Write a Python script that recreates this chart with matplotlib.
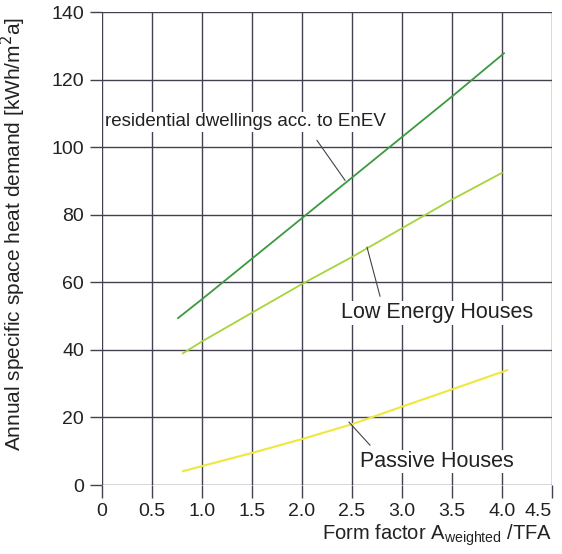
import matplotlib.pyplot as plt

plt.rcParams['font.family'] = ['Liberation Sans', 'DejaVu Sans']

# values
enev_x = [0.76, 1.0, 1.5, 2.0, 2.5, 3.0, 3.5, 4.02]
enev_y = [49.4, 55.0, 67.0, 79.0, 91.0, 103.0, 115.0, 127.8]
low_x = [0.81, 1.0, 1.5, 2.0, 2.5, 3.0, 3.5, 4.0]
low_y = [39.0, 42.5, 51.0, 59.5, 67.5, 76.0, 84.5, 92.4]
passive_x = [0.81, 1.0, 1.5, 2.0, 2.5, 3.0, 3.5, 4.05]
passive_y = [4.1, 5.6, 9.5, 13.6, 18.0, 23.2, 28.3, 34.0]

xticks = [0, 0.5, 1.0, 1.5, 2.0, 2.5, 3.0, 3.5, 4.0, 4.5]
xlabels = ['0', '0.5', '1.0', '1.5', '2.0', '2.5', '3.0', '3.5', '4.0', '4.5']
yticks = [0, 20, 40, 60, 80, 100, 120, 140]

grid_col = '#45404f'
txt_col = '#222222'

fig = plt.figure(figsize=(5.62, 5.54), dpi=100)
ax = fig.add_axes([0.1815, 0.1245, 0.8007, 0.8538])

ax.plot(enev_x, enev_y, color='#3a9a3e', lw=1.3, zorder=3)
ax.plot(low_x, low_y, color='#a6d43c', lw=1.3, zorder=3)
ax.plot(passive_x, passive_y, color='#eee83c', lw=1.5, zorder=3)

ax.set_xlim(0, 4.5)
ax.set_ylim(0, 140)
ax.set_xticks(xticks)
ax.set_xticklabels(xlabels)
ax.set_yticks(yticks)
ax.grid(True, color=grid_col, lw=1.0)
for s in ax.spines.values():
    s.set_visible(False)
ax.tick_params(length=9, width=1.0, color=grid_col, labelsize=14,
               labelcolor=txt_col, pad=4)
# last label sits left of its tick, as in the original
ax.get_xticklabels()[-1].set_horizontalalignment('right')

ax.set_ylabel('Annual specific space heat demand [kWh/m$^2$a]', fontsize=15,
              color=txt_col)
ax.yaxis.set_label_coords(-0.164, 0.53)
ax.set_xlabel('Form factor A$_{\\mathregular{weighted}}$ /TFA', fontsize=14.5,
              color=txt_col, loc='right', labelpad=2)

# annotations with leader lines
ax.text(0.03, 107.5, 'residential dwellings acc. to EnEV', fontsize=13.5,
        color=txt_col, va='center', ha='left',
        bbox=dict(facecolor='white', edgecolor='none', pad=1))
ax.plot([2.15, 2.43], [102, 90.2], color=grid_col, lw=0.8, zorder=4)

ax.text(2.39, 51, 'Low Energy Houses', fontsize=15.5, color=txt_col,
        va='center', ha='left',
        bbox=dict(facecolor='white', edgecolor='none', pad=1))
ax.plot([2.65, 2.78], [70.4, 55.9], color=grid_col, lw=0.8, zorder=4)

ax.text(2.58, 7.0, 'Passive Houses', fontsize=15.5, color=txt_col,
        va='center', ha='left',
        bbox=dict(facecolor='white', edgecolor='none', pad=1))
ax.plot([2.47, 2.68], [18.6, 11.8], color=grid_col, lw=0.8, zorder=4)

fig.savefig('out.png', dpi=100, facecolor='white')
